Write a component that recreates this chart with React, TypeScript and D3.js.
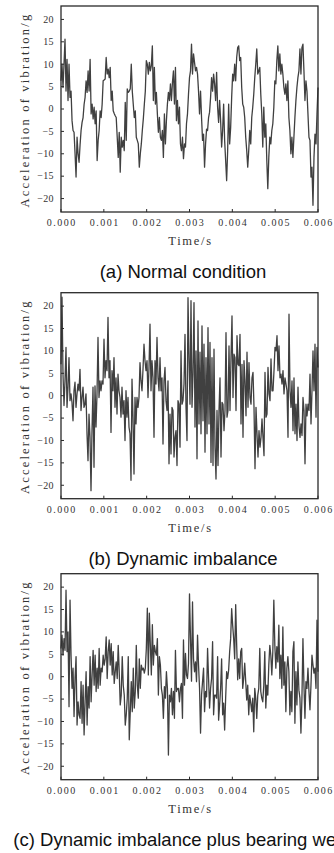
import * as d3 from "d3";

const width = 334;
const height = 853;

const normalCondition = [
  6.3, 10, 4.8, 10, 15.6, 4, 11.1, 1.9, 10, 2.6,
  4, -2.6, -4.8, -5.2, -10, -15.2, -6.3, -10, -11.9, -8,
  -4.8, -3, -1.9, 1, 2.6, 6.3, 3.7, 8.5, 4, 11.1,
  -1.1, 1.1, -2.2, 0.4, -3.3, -0.4, -11.5, -7, -4.8, -0.4,
  -1.9, 1.1, 6.3, 6.5, 6.7, 11.5, 7.8, 8.9, 7, 9.3,
  1.9, 4, -0.4, -1, -1.5, -1.9, -6.3, -10.8, -5.2, -14.1,
  -6.3, -8.5, -7, -9.3, 1.5, -7, 4.5, 3.7, 4, 4.5,
  10, 4, 1, -1.9, -0.4, -6.3, -7, -7.8, -13, -10,
  -7.8, -4.8, -2.2, 1, 4, 10.8, 10, 7.8, 10.4, 8.5,
  9.7, 14.1, 1.9, 9.3, 1.1, 3.7, -1.1, -5.2, -1.9, -6.3,
  -7, -4.8, -10.8, -1.1, -7.8, -2.6, 1.1, 3.7, 1.9, 5.6,
  1.9, 5.9, 8.5, 1.1, 9.3, -2.6, 1.9, -3.3, 0.4, -7.8,
  -9.3, -6.3, -11.1, -7.8, -8.5, -3.3, -1.1, 3.3, 7,
  8.5, 14.5, 7.8, 12.3, 10.4, 8.5, 9.3, 7.8, 4, -1.1,
  4, -1.9, -7, -5.6, -13, -7.8, -4.5, -4.8, -1.9, -0.7,
  2.6, 7, 4, 7.8, 5.6, 1.9, 8.2, 0.4, -3, 1.9,
  -2.6, -8.5, -4.8, 1.1, -7, -11.5, -16, -9.3, 1.1, -7.8,
  -4.1, 2.6, 7.8, 6.3, 10, 6.3, 11.5, 13.7, 14.1, 10.8,
  11.5, 4.8, 1.1, 0.4, -1.9, -6.3, -9.3, -13, -9.3, -4.8,
  -7.8, -1.9, 0.4, 3.3, 7, 10, 13.4, 7.8, 8.5, 9.3,
  3.3, -1.1, -8.5, 0.4, -6.3, -3.3, -11.5, -17.8, -10.8, -6.3,
  -7.8, -4.8, -3.3, 0.4, 6.3, 5.6, 10.8, 14.1, 8.5, 12.3,
  7.8, 10, 7.8, 4.8, 3.3, 5.6, 1.9, 6.3, -1.9, -4.8,
  -10, -6.3, -10.8, -6.3, -1.9, 1.9, 4.8, 7, 8.5, 13.4,
  7.8, 13.7, 14.5, 8.5, 1.9, 6.3, 4, -1.1, -6.3, -7,
  -15.2, -13, -21.5, -10.8, -5.6, -7.8, -1.1, 4.8,
];

const dynamicImbalance = [
  7, 22, 4.8, -2.2, 3.3, 10.8, -2.6, 1.9, 8.5, -1.1,
  0.4, -1.5, -5.6, 1.1, 3, -2.6, 0.4, 2.6, 1.1, 5.9,
  -3.3, -0.4, 1.9, -2.6, -1.9, 0.4, -8.5, -14.5, -4.1, -9.3,
  -21.2, -7.8, 1.9, -16, 2.2, -7, 0.4, 13, -0.4, 3.3,
  1.1, 3.3, 2.6, 12.6, 4, 7.8, 5.6, 17.5, 4, 7.8,
  -8.2, 5.6, 1.1, 8.5, -2.6, 4, -4.1, 4.8, 1.1, -0.4,
  -4.8, 1.9, -4.1, -1.1, -10, 1.1, -4.8, -0.4, -7, -8.5,
  -18.9, 3.7, -4.8, -17.5, -0.4, -6.3, -0.4, -2.6, -0.4, 7.4,
  3.3, 1.1, 5.9, 11.5, 7.8, 5.6, 7.8, -0.4, 6.3, 16,
  1.1, 7.8, 4, -9.3, 7.8, 2.6, 13, 4, 1.1, 8.5,
  1.1, 4, -10.8, 3.3, 6.3, -1.1, -3.3, 3.3, -15.2, -4.1,
  -13, -2.6, -3.3, -13.7, -9.3, -7.8, -15.6, -1.1, -1.9, -11.5,
  10, -1.9, -1.1, 2.6, 13.7, -2.6, -10, 21.9, 8.5, -1.9,
  21.2, -2.6, 4.8, 20.8, -7, 10, -14.1, 16.7, -6.3, 9.7,
  -8.5, 15.6, -5.6, 11.5, -12.6, 8.5, -8.5, 15.2, -6.3, 11.9,
  -14.9, 8.5, -15.6, 10.4, -11.5, -18.6, -3.3, -15.6, -3.3, 4,
  -13.7, -1.5, -1.9, -7.8, -3.3, 14.1, -4.8, -3.3, 11.1, -3.3,
  8.5, 17.8, -0.4, 9.3, 8.5, -3.3, 13.4, 7, 6.7, 13.7,
  -6.3, 7, -9.3, 7.8, 3.3, -4.5, 9.7, -2.6, 7.4, -0.4,
  -1.9, 4, 5.2, -2.6, -16.3, -2.6, -8.5, -13.7, -7.8, -11.5,
  -9.3, -5.2, -9.3, -13.4, 5.2, -4.8, -4.1, 6.3, 0.4, -1.1,
  8.2, 1.1, 1.1, 5.6, 10.8, 10, 13.4, 5.6, 11.1, 4,
  4.8, 2.6, 5.6, 0.4, 4, 2.6, 1.1, -9.3, 18.2, 1.1,
  -2.6, 3.3, -7.8, 4, -8.5, -1.9, -10, 1.9, -6.7, -9.3,
  -6.3, -8.9, -0.4, -3.3, -15.2, -1.9, -4.5, -1.9, -3.3, 4.8,
  -6.3, 1.1, 10, 1.1, 11.5, -4.8, 10.8, 6.3,
];

const imbalanceBearingWear = [
  6.3, 9.3, 4.8, 8.5, 5.9, 19.3, 5.6, 10, -6.7, 17.1,
  4.8, -2.6, 1.9, -8.9, -0.4, 4.5, -10.8, -5.6, -8.5, -9.3,
  -1.1, -10.4, -1.9, -13, -5.6, 1.1, -10.8, -2.2, -7, 4.5,
  -5.6, 0.4, 5.9, -1.9, 4.8, -3.3, 1.9, -2.6, 6.3, -1.9,
  1.9, 1.1, 4.8, 2.6, 4, 8.9, -0.4, 5.6, 8.2, 2.6,
  7.4, 0.4, 5.6, -1.5, 1.1, 3.3, -0.4, 7, 1.1, -6.3,
  -4.1, 4.5, -1.9, -4.1, -10.8, -8.5, -4.8, 4.5, -14.1, -7.8,
  -1.1, -7.8, 1.9, -7, -3.3, 7, -1.9, -4.8, 4, -2.6,
  2.6, 1.5, 1.9, 0.8, 1.9, 6.3, 15.3, 0.4, 14.2, 7,
  0.4, 11.6, 2.6, 7, 5.6, 4.8, 8.5, -4.1, 4.5, 2.6,
  -2.6, -4.1, -9.3, -2.2, -4.8, 1.1, -2.6, -17.5, -4.1, -5.6,
  -2.6, -8.5, -3.3, -9.3, 5.9, -3.3, -2.6, -2.6, -5.6, -2.6,
  -1.5, -9.3, 8.2, -1.9, 5.2, 0.4, -0.4, 3, 18.5,
  8.5, -1, 16.7, 4, 1.1, 3.3, -1.1, 9.3, 2.6, -2.6,
  -12.6, -4.1, -1.1, 1.9, -7.8, -3.3, -4.5, 6.3, -0.4, -7,
  -2.6, -0.4, 7.8, -8.5, -4.1, -4.1, -4.8, 4.5, -9.7, -6.3,
  -2.6, 4, -8.5, -5.9, -11.9, -4.8, 1.1, -0.4, 1.5, 5.6,
  8.5, 15.2, 11.5, 8.5, 4, 16.1, 7, -0.7, 4, -0.4,
  5.6, 6.3, -2.6, -0.4, 3, -1.1, -5.2, -1.9, -8.5, -4.1,
  -5.9, -7.8, -4.8, -12.3, -2.6, -4.8, -9.3, -4.1, -2.6, 6.3,
  -3.3, -4.8, -5.6, -1.9, 5.6, -7, -1.9, -4.1, 2.6, 7,
  4.8, 0.4, 5.6, 17.1, 7, 1.9, 6.7, 3.3, 11.5, -0.4,
  4.8, -2.6, 11.1, -1.9, 3.3, -7.8, 1.9, 4.5, 1.1, -8.5,
  -3.3, -7.8, 5.6, 7.8, -10.4, 1.1, -6.3, 3.3, -3, -4.8,
  -12.6, -4.8, 8.5, -1.9, -9.3, -1.1, -2.6, 1.9, -3.3, -7.4,
  -1.9, 4.8, 2.6, 0.8, 1.9, -2.6, 12.6, 1.1,
];

const titles = [
  "(a) Normal condition",
  "(b) Dynamic imbalance",
  "(c) Dynamic imbalance plus bearing wear",
];
const xTicks = [0, 0.001, 0.002, 0.003, 0.004, 0.005, 0.006];
const yTicks = [-20, -15, -10, -5, 0, 5, 10, 15, 20];

const left = 61;
const right = 318;
const plotH = 206;
const tops = [6, 292.7, 573.7];
const duration = 0.006;

// serif, widely spaced like the half-width CJK serif of the original
const serif = "'Liberation Serif', 'DejaVu Serif', serif";
const sans = "'Liberation Sans', Arial, sans-serif";

const xScale = d3.scaleLinear().domain([0, duration]).range([left, right]);
const fmtX = d3.format(".3f");

function Panel({ values, top, title }: { values: number[]; top: number; title: string }) {
  const y = d3.scaleLinear().domain([-23, 23]).range([top + plotH, top]);
  const dt = duration / (values.length - 1);
  const line = d3
    .line<number>()
    .x((_, i) => xScale(i * dt))
    .y((d) => y(d));
  const bottom = top + plotH;
  return (
    <g>
      <path d={line(values) ?? ""} fill="none" stroke="#404040" strokeWidth={1.3} strokeLinejoin="round" />
      <rect x={left} y={top} width={right - left} height={plotH} fill="none" stroke="#2a2a2a" strokeWidth={1.3} />
      {yTicks.map((t) => (
        <g key={t}>
          <line x1={left} x2={left + 3} y1={y(t)} y2={y(t)} stroke="#2a2a2a" strokeWidth={1} />
          <text
            x={left - 7}
            y={y(t)}
            dy="0.33em"
            textAnchor="end"
            fontFamily={serif}
            fontSize={10}
            letterSpacing={0.4}
            fill="#333"
          >
            {t < 0 ? "\u2212" + Math.abs(t) : t}
          </text>
        </g>
      ))}
      {xTicks.map((t) => (
        <g key={t}>
          <line x1={xScale(t)} x2={xScale(t)} y1={bottom} y2={bottom - 3} stroke="#2a2a2a" strokeWidth={1} />
          <text
            x={xScale(t) + 0.8}
            y={bottom + 14}
            textAnchor="middle"
            fontFamily={serif}
            fontSize={10}
            letterSpacing={1.5}
            fill="#333"
          >
            {fmtX(t)}
          </text>
        </g>
      ))}
      <text
        x={(left + right) / 2 + 1}
        y={bottom + 33}
        textAnchor="middle"
        fontFamily={serif}
        fontSize={12.5}
        letterSpacing={1.7}
        fill="#333"
      >
        Time/s
      </text>
      <text
        transform={`translate(29,${top + plotH / 2 + 1}) rotate(-90)`}
        textAnchor="middle"
        fontFamily={serif}
        fontSize={12.5}
        letterSpacing={2.2}
        fill="#333"
      >
        Acceleration of vibration/g
      </text>
      <text x={183} y={bottom + 66} textAnchor="middle" fontFamily={sans} fontSize={18.5} fill="#111">
        {title}
      </text>
    </g>
  );
}

export default function App() {
  const series = [normalCondition, dynamicImbalance, imbalanceBearingWear];
  return (
    <svg
      width={width}
      height={height}
      style={{ position: "absolute", left: 0, top: 0, display: "block", background: "#fff" }}
    >
      {series.map((s, i) => (
        <Panel key={i} values={s} top={tops[i]} title={titles[i]} />
      ))}
    </svg>
  );
}
